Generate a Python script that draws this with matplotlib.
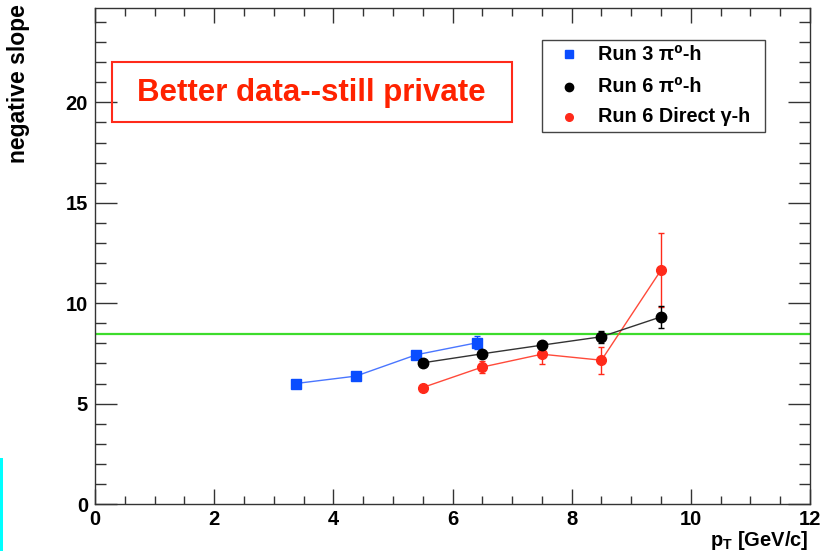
import matplotlib
matplotlib.use("Agg")
import matplotlib.pyplot as plt
from matplotlib.patches import Rectangle
from matplotlib.lines import Line2D
from matplotlib.ticker import MultipleLocator

plt.rcParams['font.family'] = ['Liberation Sans', 'DejaVu Sans']
plt.rcParams['font.weight'] = 'bold'
plt.rcParams['mathtext.fontset'] = 'custom'
plt.rcParams['mathtext.rm'] = 'Liberation Sans:bold'
plt.rcParams['mathtext.bf'] = 'Liberation Sans:bold'
plt.rcParams['mathtext.it'] = 'Liberation Sans:bold'

# Run 3 pi0-h
run3_pt = [3.37, 4.38, 5.39, 6.41]
run3_slope = [6.0, 6.37, 7.43, 8.03]
run3_err = [0.1, 0.1, 0.15, 0.32]

# Run 6 pi0-h
run6_pt = [5.5, 6.5, 7.5, 8.5, 9.5]
run6_slope = [7.03, 7.48, 7.91, 8.33, 9.32]
run6_err = [0.12, 0.12, 0.15, 0.3, 0.55]

# Run 6 direct photon-h
dir_pt = [5.5, 6.5, 7.5, 8.5, 9.5]
dir_slope = [5.8, 6.82, 7.46, 7.16, 11.65]
dir_err = [0.12, 0.3, 0.5, 0.67, 1.85]

ref_level = 8.48

labels = ["Run 3 \u03c0\u2070-h", "Run 6 \u03c0\u2070-h", "Run 6 Direct \u03b3-h"]

W, H = 832, 556
fig = plt.figure(figsize=(W / 100, H / 100), dpi=100)


def fx(px):
    return px / W


def fy(py):
    return 1 - py / H


ax = fig.add_axes([fx(95), fy(504), fx(810) - fx(95), fy(8) - fy(504)])
ax.set_xlim(0, 12)
ax.set_ylim(0, 24.7)

blue = '#0a4dff'
red = '#ff2a1a'

ax.axhline(ref_level, color='#3ddc2c', lw=1.6, zorder=1)

ax.errorbar(run3_pt, run3_slope, yerr=run3_err, color='#4a76ff', lw=1.0,
            marker='s', ms=7, mfc=blue, mec=blue, ecolor=blue,
            capsize=2.5, capthick=1, elinewidth=1, zorder=3)
ax.errorbar(run6_pt, run6_slope, yerr=run6_err, color='#333333', lw=1.0,
            marker='o', ms=7.5, mfc='black', mec='black', ecolor='black',
            capsize=2.5, capthick=1, elinewidth=1, zorder=4)
ax.errorbar(dir_pt, dir_slope, yerr=dir_err, color='#ff4a3a', lw=1.0,
            marker='o', ms=7, mfc=red, mec=red, ecolor=red,
            capsize=2.5, capthick=1, elinewidth=1, zorder=3)

ax.xaxis.set_major_locator(MultipleLocator(2))
ax.xaxis.set_minor_locator(MultipleLocator(0.5))
ax.yaxis.set_major_locator(MultipleLocator(5))
ax.yaxis.set_minor_locator(MultipleLocator(1))
ax.tick_params(which='both', direction='in', top=True, right=True,
               width=1.0, color='#333333')
ax.tick_params(axis='x', which='major', length=11, labelsize=14.5, pad=4)
ax.tick_params(axis='x', which='minor', length=5.5)
ax.tick_params(axis='y', which='major', length=16, labelsize=14.5, pad=5)
ax.tick_params(axis='y', which='minor', length=8)
for lab in ax.get_xticklabels() + ax.get_yticklabels():
    lab.set_fontweight('bold')
for sp in ax.spines.values():
    sp.set_color('#333333')
    sp.set_linewidth(1.0)

# axis titles
fig.text(fx(19), fy(4), 'negative slope', rotation=90, ha='center', va='top',
         fontsize=16.5, fontweight='bold')
fig.text(fx(809), fy(546), r'$\mathbf{p}_{\mathbf{T}}$ [GeV/c]', ha='right',
         va='baseline', fontsize=14.5, fontweight='bold')

# legend
fig.add_artist(Rectangle((fx(541.7), fy(132)), fx(765) - fx(541.7), fy(40) - fy(132),
                         transform=fig.transFigure, fill=False,
                         edgecolor='#444444', lw=1.0))
markers = [('s', blue, 5.5), ('o', 'black', 6), ('o', red, 5.5)]
rows = [54, 86.5, 117]
for (m, c, s), row, text in zip(markers, rows, labels):
    fig.add_artist(Line2D([fx(569)], [fy(row)], transform=fig.transFigure,
                          marker=m, ms=s, mfc=c, mec=c, ls='none'))
    fig.text(fx(598), fy(row), text, ha='left', va='center', fontsize=14.3,
             fontweight='bold')

# banner
fig.add_artist(Rectangle((fx(111.7), fy(122)), fx(512) - fx(111.7), fy(61.7) - fy(122),
                         transform=fig.transFigure, fill=False,
                         edgecolor='#ff2a1a', lw=1.5))
fig.text(fx(311), fy(101.5), 'Better data--still private', ha='center', va='baseline',
         fontsize=22.5, fontweight='bold', color='#ff2200')

# cyan strip at the left border
fig.add_artist(Rectangle((0, fy(551)), fx(3), fy(458) - fy(551),
                         transform=fig.transFigure, color='#00ffff', lw=0))

fig.savefig('out.png', dpi=100)
